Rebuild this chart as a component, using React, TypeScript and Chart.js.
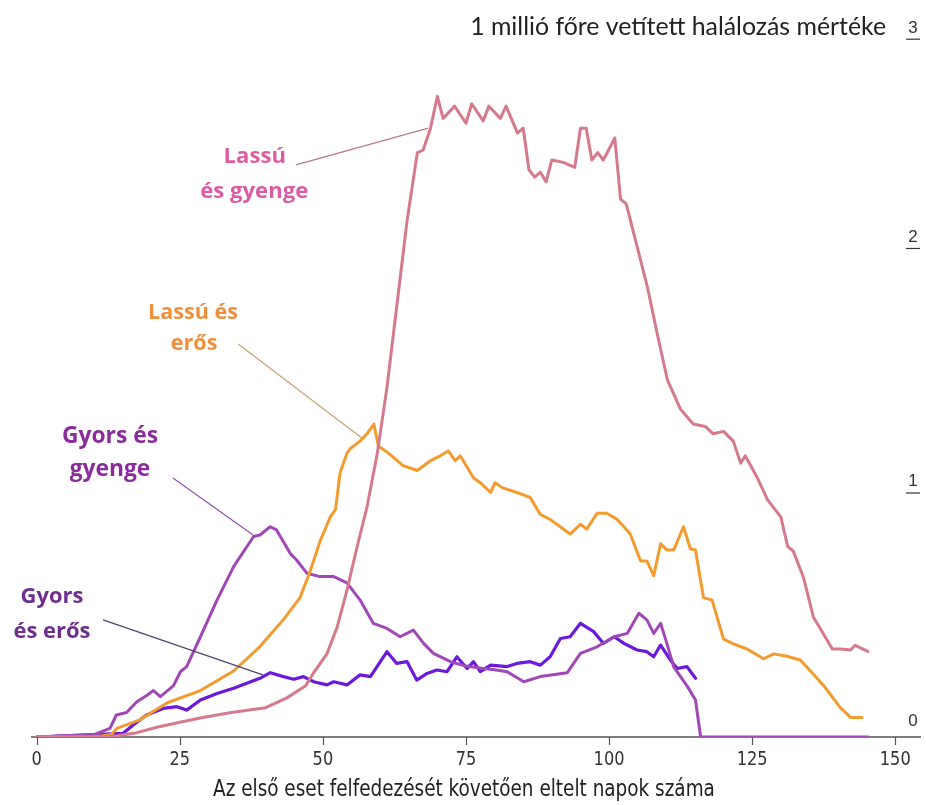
import React, { useEffect, useRef } from 'react';
import { Chart, registerables } from 'chart.js';
Chart.register(...registerables);

// ---- Data ----
const lassuGyengeDays = [0, 5, 10, 14, 17, 21, 25, 29, 34, 40, 43.7, 47, 48.3, 50.7, 52.5, 54.2, 56, 57.7, 59.5, 61.2, 63, 64.7, 66.5, 67.5, 68.8, 70, 71, 73, 75, 76, 78, 79, 81, 82, 84, 85, 86, 87, 88, 89, 90, 92, 94, 95, 96, 97, 98, 99, 101, 102, 103, 104.2, 106.7, 108.5, 110.2, 112.5, 114.7, 116.8, 118.2, 120, 121.7, 123, 123.8, 125.9, 127.7, 130, 131.2, 132.2, 134, 135.7, 137, 139, 140.4, 142.2, 143, 145.2];
const lassuGyengeVals = [0, 0, 0, 0.005, 0.015, 0.04, 0.06, 0.08, 0.1, 0.12, 0.16, 0.21, 0.26, 0.34, 0.45, 0.6, 0.78, 0.94, 1.16, 1.43, 1.78, 2.11, 2.39, 2.4, 2.49, 2.62, 2.53, 2.58, 2.51, 2.59, 2.52, 2.58, 2.53, 2.58, 2.47, 2.49, 2.32, 2.29, 2.31, 2.27, 2.36, 2.35, 2.33, 2.49, 2.49, 2.36, 2.39, 2.36, 2.45, 2.2, 2.18, 2.07, 1.84, 1.64, 1.46, 1.34, 1.28, 1.27, 1.24, 1.25, 1.21, 1.12, 1.15, 1.06, 0.97, 0.9, 0.78, 0.76, 0.65, 0.49, 0.44, 0.36, 0.36, 0.356, 0.375, 0.35];

const lassuErosDays = [0, 5, 10, 13, 14, 18, 22.8, 28.6, 34.4, 39, 43.1, 46, 47.8, 49.5, 51.3, 52.2, 53, 54.2, 54.8, 56.5, 57.7, 58.9, 59.7, 61.5, 64, 66.5, 68.8, 70.5, 71.9, 73.1, 74, 76.3, 77.5, 79.3, 80.1, 81.3, 83.9, 86.2, 88, 89.7, 93.2, 95, 96.1, 97.9, 99.6, 101.4, 102.6, 103.7, 105.5, 106.6, 107.8, 109, 110.1, 111.3, 113, 114.2, 115.1, 116.5, 118, 120, 121.8, 124.1, 127, 128.8, 131.1, 133.4, 135.2, 137.5, 140.4, 142.2, 144.2];
const lassuErosVals = [0, 0, 0, 0.01, 0.035, 0.07, 0.14, 0.19, 0.27, 0.37, 0.48, 0.57, 0.68, 0.8, 0.9, 0.93, 1.08, 1.16, 1.18, 1.21, 1.24, 1.28, 1.19, 1.16, 1.11, 1.09, 1.13, 1.15, 1.17, 1.13, 1.15, 1.06, 1.04, 1.0, 1.04, 1.02, 1.0, 0.98, 0.91, 0.89, 0.83, 0.87, 0.85, 0.915, 0.915, 0.89, 0.86, 0.83, 0.72, 0.72, 0.66, 0.79, 0.765, 0.765, 0.86, 0.77, 0.765, 0.57, 0.56, 0.4, 0.38, 0.36, 0.32, 0.34, 0.33, 0.315, 0.27, 0.21, 0.12, 0.08, 0.08];

const gyorsGyengeDays = [0, 5, 10, 12.8, 13.9, 15.7, 17.5, 19.2, 20.4, 21.6, 23.9, 25.1, 26.2, 28.6, 31.5, 34.4, 36.7, 37.9, 39, 40.8, 41.9, 44.3, 45.4, 47.2, 49.5, 51.9, 54.2, 56.5, 58.8, 61.2, 63.5, 65.8, 67.6, 69.3, 72.3, 75, 78, 80, 82.2, 85.1, 88, 92.7, 95, 97.9, 100.9, 103.2, 105.2, 106.6, 107.8, 109, 110.1, 111.3, 113.7, 115.1, 116, 120, 130, 140, 145.3];
const gyorsGyengeVals = [0, 0.005, 0.01, 0.035, 0.09, 0.1, 0.144, 0.17, 0.19, 0.165, 0.21, 0.267, 0.288, 0.41, 0.56, 0.697, 0.778, 0.82, 0.826, 0.86, 0.847, 0.75, 0.724, 0.67, 0.656, 0.656, 0.63, 0.56, 0.465, 0.444, 0.41, 0.437, 0.383, 0.342, 0.308, 0.29, 0.28, 0.275, 0.267, 0.226, 0.247, 0.263, 0.342, 0.369, 0.41, 0.424, 0.506, 0.479, 0.424, 0.465, 0.383, 0.287, 0.206, 0.151, 0, 0, 0, 0, 0];

const gyorsErosDays = [0, 5, 10, 15.1, 16.9, 19.2, 22.1, 24.5, 26.2, 28.6, 31.5, 34.4, 36.7, 39, 40.8, 43.1, 44.9, 46.6, 48.4, 50.7, 51.9, 54.2, 56.5, 58.3, 61.2, 62.9, 64.7, 66.4, 68.2, 69.9, 71.7, 73.4, 75.2, 76.3, 77.5, 79.3, 82.2, 83.9, 86.2, 88, 89.7, 91.5, 93.2, 95, 97.3, 99, 100.9, 102.6, 104.9, 106.6, 107.8, 109, 110.7, 111.9, 113.6, 115.1];
const gyorsErosVals = [0, 0.005, 0.01, 0.015, 0.05, 0.09, 0.117, 0.124, 0.11, 0.151, 0.178, 0.199, 0.22, 0.24, 0.263, 0.247, 0.236, 0.247, 0.226, 0.213, 0.226, 0.213, 0.254, 0.247, 0.349, 0.301, 0.308, 0.233, 0.26, 0.274, 0.267, 0.328, 0.28, 0.308, 0.267, 0.294, 0.288, 0.301, 0.308, 0.294, 0.328, 0.403, 0.41, 0.465, 0.431, 0.383, 0.41, 0.383, 0.356, 0.349, 0.328, 0.376, 0.315, 0.28, 0.288, 0.24];

const xTickValues = [0, 25, 50, 75, 100, 125, 150];
const yTickValues = [0, 1, 2, 3];
const yTickLabels = ['0', '1', '2', '3'];

const yAxisTitle = '1 millió főre vetített halálozás mértéke';
const xAxisTitle = 'Az első eset felfedezését követően eltelt napok száma';

// annotation labels: text lines, positions in data units; fitWidth = width of longest line
const annotations = [
  { lines: ['Lassú', 'és gyenge'], at: [[38.1, 2.372], [38.0, 2.229]], from: [45.3, 2.34], to: [68.4, 2.49], fitWidth: 108, color: '#dc5ca4', lineColor: '#b87890' },
  { lines: ['Lassú és', 'erős'], at: [[27.3, 1.736], [27.5, 1.607]], from: [35.2, 1.607], to: [56.8, 1.223], fitWidth: 90, color: '#f08f3a', lineColor: '#c9a271' },
  { lines: ['Gyors és', 'gyenge'], at: [[12.8, 1.227], [12.8, 1.092]], from: [23.8, 1.059], to: [37.8, 0.826], fitWidth: 96, color: '#8a2c9c', lineColor: '#8d55a5' },
  { lines: ['Gyors', 'és erős'], at: [[2.67, 0.573], [2.67, 0.429]], from: [11.6, 0.479], to: [39.5, 0.254], fitWidth: 77, color: '#6e2f8d', lineColor: '#4f456f' },
];

const toXY = (d: number[], v: number[]) => d.map((x, i) => ({ x, y: v[i] }));

function fitFont(ctx: CanvasRenderingContext2D, text: string, family: string, weight: string, target: number) {
  ctx.font = `${weight} 20px ${family}`;
  const w = ctx.measureText(text).width;
  const size = 20 * target / w;
  return `${weight} ${size.toFixed(2)}px ${family}`;
}

const NARROW = '"Liberation Sans Narrow", "DejaVu Sans Condensed", "Roboto", sans-serif';

const decorPlugin = {
  id: 'decor',
  beforeDatasetsDraw(chart: any) {
    const { ctx, chartArea, scales } = chart;
    const xs = scales.x;
    const y0 = scales.y.getPixelForValue(0);
    ctx.save();
    ctx.strokeStyle = '#555';
    ctx.lineWidth = 1.5;
    ctx.beginPath();
    ctx.moveTo(chartArea.left, y0);
    ctx.lineTo(chartArea.right, y0);
    ctx.stroke();
    ctx.lineWidth = 1.2;
    xTickValues.forEach((t) => {
      const px = Math.round(xs.getPixelForValue(t)) + 0.5;
      ctx.beginPath();
      ctx.moveTo(px, y0);
      ctx.lineTo(px, y0 + 8);
      ctx.stroke();
    });
    ctx.restore();
  },
  afterDatasetsDraw(chart: any) {
    const { ctx, chartArea, scales } = chart;
    const xs = scales.x;
    const ys = scales.y;
    const y0 = ys.getPixelForValue(0);
    ctx.save();
    // x tick labels (slightly stretched vertically like the condensed original)
    ctx.fillStyle = '#333';
    ctx.textAlign = 'center';
    ctx.textBaseline = 'middle';
    ctx.font = `18px ${NARROW}`;
    xTickValues.forEach((t) => {
      ctx.save();
      ctx.translate(xs.getPixelForValue(t), y0 + 23);
      ctx.scale(1, 1.12);
      ctx.fillText(String(t), 0, 0);
      ctx.restore();
    });
    // x title
    ctx.fillStyle = '#222';
    ctx.font = fitFont(ctx, xAxisTitle, NARROW, '', 502);
    ctx.save();
    ctx.translate(xs.getPixelForValue(75) - 2, y0 + 53);
    ctx.scale(1, 1.12);
    ctx.fillText(xAxisTitle, 0, 0);
    ctx.restore();
    // y tick labels
    ctx.font = '17px "Liberation Sans", Arial, sans-serif';
    ctx.fillStyle = '#333';
    ctx.strokeStyle = '#333';
    ctx.lineWidth = 1.2;
    const lx = chartArea.right - 8;
    yTickValues.forEach((v, i) => {
      const py = Math.max(ys.getPixelForValue(v), chartArea.top + 1);
      ctx.textBaseline = 'alphabetic';
      if (v === 0) {
        ctx.fillText(yTickLabels[i], lx, py - 11);
      } else {
        ctx.fillText(yTickLabels[i], lx, py - 6);
        ctx.beginPath();
        ctx.moveTo(lx - 7, py + 0.5);
        ctx.lineTo(lx + 7, py + 0.5);
        ctx.stroke();
      }
    });
    // y title
    ctx.fillStyle = '#222';
    ctx.textAlign = 'right';
    ctx.textBaseline = 'alphabetic';
    ctx.font = fitFont(ctx, yAxisTitle, 'Lato, "Open Sans", sans-serif', '', 416);
    ctx.fillText(yAxisTitle, lx - 27, chartArea.top - 3);
    // annotations
    annotations.forEach((a) => {
      ctx.strokeStyle = a.lineColor;
      ctx.lineWidth = 1.2;
      ctx.beginPath();
      ctx.moveTo(xs.getPixelForValue(a.from[0]), ys.getPixelForValue(a.from[1]));
      ctx.lineTo(xs.getPixelForValue(a.to[0]), ys.getPixelForValue(a.to[1]));
      ctx.stroke();
      ctx.fillStyle = a.color;
      ctx.textAlign = 'center';
      ctx.textBaseline = 'middle';
      const longest = a.lines.reduce((m, t) => (t.length > m.length ? t : m), '');
      ctx.font = fitFont(ctx, longest, '"Open Sans", Lato, sans-serif', 'bold', a.fitWidth);
      a.lines.forEach((t, i) => {
        ctx.fillText(t, xs.getPixelForValue(a.at[i][0]), ys.getPixelForValue(a.at[i][1]));
      });
    });
    ctx.restore();
  },
};

export default function App() {
  const ref = useRef<HTMLCanvasElement>(null);
  useEffect(() => {
    if (!ref.current) return;
    const common = { pointRadius: 0, borderJoinStyle: 'round' as const, borderCapStyle: 'round' as const, tension: 0, fill: false };
    const chart = new Chart(ref.current, {
      type: 'line',
      data: {
        datasets: [
          { label: 'Lassú és gyenge', data: toXY(lassuGyengeDays, lassuGyengeVals), borderColor: '#d47a8c', borderWidth: 3, ...common },
          { label: 'Lassú és erős', data: toXY(lassuErosDays, lassuErosVals), borderColor: '#f29b2f', borderWidth: 3, ...common },
          { label: 'Gyors és gyenge', data: toXY(gyorsGyengeDays, gyorsGyengeVals), borderColor: '#a048b6', borderWidth: 3, ...common },
          { label: 'Gyors és erős', data: toXY(gyorsErosDays, gyorsErosVals), borderColor: '#6b1adc', borderWidth: 3.2, ...common },
        ],
      },
      options: {
        responsive: false,
        animation: false,
        layout: { padding: { left: 31, right: 5, top: 37.7, bottom: 68 } },
        plugins: { legend: { display: false }, tooltip: { enabled: false } },
        scales: {
          x: { type: 'linear', min: -1, max: 154.5, display: false },
          y: { type: 'linear', min: 0, max: 2.86, display: false },
        },
      },
      plugins: [decorPlugin],
    });
    return () => chart.destroy();
  }, []);
  return (
    <div style={{ position: 'absolute', left: 0, top: 0, width: 926, height: 805, background: '#fff' }}>
      <canvas ref={ref} width={926} height={805} style={{ display: 'block' }} />
    </div>
  );
}
